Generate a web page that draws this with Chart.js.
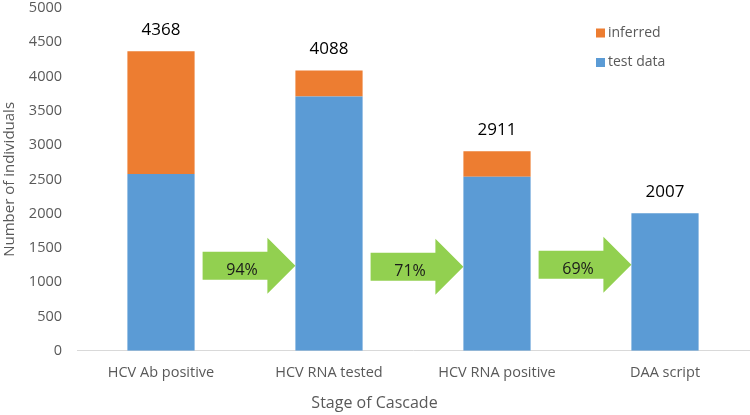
<!DOCTYPE html>
<html>
<head>
<meta charset="utf-8">
<script src="https://cdn.jsdelivr.net/npm/chart.js@4.4.1/dist/chart.umd.min.js"></script>
<style>
  html, body { margin: 0; padding: 0; background: #ffffff; }
  #wrap { width: 750px; height: 415px; position: relative; }
</style>
</head>
<body>
<div id="wrap"><canvas id="c" width="750" height="415"></canvas></div>
<script>
const categories = ['HCV Ab positive', 'HCV RNA tested', 'HCV RNA positive', 'DAA script'];
const testData = [2580, 3710, 2540, 2007];
const inferred = [1788, 378, 371, 0];
const totals = [4368, 4088, 2911, 2007];
const conversionLabels = ['94%', '71%', '69%'];
const arrowLevels = [1240, 1225, 1255];
const yTicks = [0, 500, 1000, 1500, 2000, 2500, 3000, 3500, 4000, 4500, 5000];

const FONT = "'Open Sans', 'DejaVu Sans', sans-serif";
const GRAY = '#595959';
const BLUE = '#5B9BD5';
const ORANGE = '#ED7D31';
const GREEN = '#92D050';

const overlayPlugin = {
  id: 'overlay',
  afterDatasetsDraw(chart) {
    const ctx = chart.ctx;
    const y = chart.scales.y;
    const meta = chart.getDatasetMeta(0);
    const bars = meta.data;
    ctx.save();
    // arrows
    for (let i = 0; i < conversionLabels.length; i++) {
      const b0 = bars[i], b1 = bars[i + 1];
      const x0 = b0.x + b0.width / 2 + 8;
      const tip = b1.x - b1.width / 2;
      const cy = y.getPixelForValue(arrowLevels[i]);
      const headLen = 28;
      const bodyHalf = 14;
      const headHalf = 28;
      const neck = tip - headLen;
      ctx.beginPath();
      ctx.moveTo(x0, cy - bodyHalf);
      ctx.lineTo(neck, cy - bodyHalf);
      ctx.lineTo(neck, cy - headHalf);
      ctx.lineTo(tip, cy);
      ctx.lineTo(neck, cy + headHalf);
      ctx.lineTo(neck, cy + bodyHalf);
      ctx.lineTo(x0, cy + bodyHalf);
      ctx.closePath();
      ctx.fillStyle = GREEN;
      ctx.fill();
      ctx.fillStyle = '#1a1a1a';
      ctx.font = '16px ' + FONT;
      ctx.textAlign = 'center';
      ctx.textBaseline = 'middle';
      ctx.fillText(conversionLabels[i], (x0 + neck) / 2 + 7, cy + 5);
    }
    // totals
    ctx.fillStyle = '#000000';
    ctx.font = '17px ' + FONT;
    ctx.textAlign = 'center';
    ctx.textBaseline = 'middle';
    for (let i = 0; i < totals.length; i++) {
      ctx.fillText(String(totals[i]), bars[i].x, y.getPixelForValue(totals[i]) - 21);
    }
    // legend
    const ca = chart.chartArea;
    const lx = ca.right - 153;
    const items = [
      { label: chart.data.datasets[1].label, color: chart.data.datasets[1].backgroundColor, cy: ca.top + 25 },
      { label: chart.data.datasets[0].label, color: chart.data.datasets[0].backgroundColor, cy: ca.top + 54.5 }
    ];
    ctx.font = '14px ' + FONT;
    ctx.textAlign = 'left';
    for (const it of items) {
      ctx.fillStyle = it.color;
      ctx.fillRect(lx, it.cy - 4.5, 9, 9);
      ctx.fillStyle = GRAY;
      ctx.fillText(it.label, lx + 12, it.cy);
    }
    ctx.restore();
  }
};

new Chart(document.getElementById('c'), {
  type: 'bar',
  data: {
    labels: categories,
    datasets: [
      { label: 'test data', data: testData, backgroundColor: BLUE, barPercentage: 0.4, categoryPercentage: 1 },
      { label: 'inferred', data: inferred, backgroundColor: ORANGE, barPercentage: 0.4, categoryPercentage: 1 }
    ]
  },
  options: {
    responsive: false,
    animation: false,
    devicePixelRatio: 1,
    layout: { padding: { top: 8, right: 1, left: 0, bottom: 0 } },
    plugins: {
      legend: { display: false },
      tooltip: { enabled: false },
      title: {
        display: true,
        position: 'bottom',
        text: 'Stage of Cascade',
        color: GRAY,
        font: { family: FONT, size: 16, weight: 'normal' },
        padding: { top: 2, bottom: 2 }
      }
    },
    scales: {
      x: {
        stacked: true,
        grid: { display: false, drawTicks: false },
        border: { display: true, color: '#D9D9D9', width: 1 },
        ticks: { color: GRAY, font: { family: FONT, size: 14.5 }, padding: 13, maxRotation: 0 },
        afterFit(scale) { scale.height = 41; }
      },
      y: {
        stacked: true,
        min: 0,
        max: 5000,
        afterBuildTicks(scale) { scale.ticks = yTicks.map(v => ({ value: v })); },
        grid: { display: false, drawTicks: false },
        border: { display: false },
        ticks: {
          color: GRAY,
          font: { family: FONT, size: 14.5 },
          padding: 15,
          callback: (v) => String(v)
        },
        title: {
          display: true,
          text: 'Number of individuals',
          color: GRAY,
          font: { family: FONT, size: 15 },
          padding: { top: 1, bottom: 0 }
        },
        afterFit(scale) {
          scale.width = 77;
          scale.paddingTop = 0;
          scale.paddingBottom = 0;
        }
      }
    }
  },
  plugins: [overlayPlugin]
});
</script>
</body>
</html>
